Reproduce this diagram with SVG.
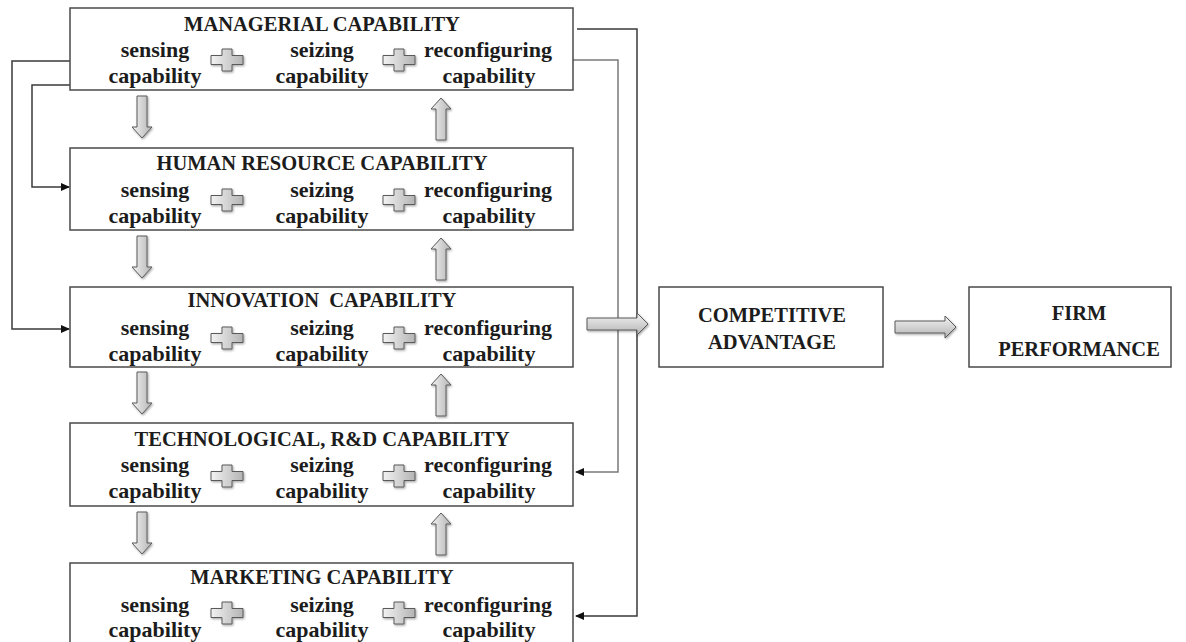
<svg xmlns="http://www.w3.org/2000/svg" width="1186" height="642" viewBox="0 0 1186 642">
<style>
.box{fill:#fff;stroke:#4a4a4a;stroke-width:1.5}
.t{font-family:"Liberation Serif","Times New Roman",serif;font-weight:bold;fill:#1c1c1c;text-anchor:middle}
.cap{font-size:20.5px}
.low{font-size:22px}
.ln{fill:none;stroke:#3a3a3a;stroke-width:1.5}
.ln2{fill:none;stroke:#7a7a7a;stroke-width:1.5}
.blk{stroke:#5a5a5a;stroke-width:1;filter:url(#sh)}
</style>
<defs>
<filter id="sh" x="-30%" y="-30%" width="160%" height="160%">
<feDropShadow dx="1" dy="1.2" stdDeviation="0.9" flood-color="#000" flood-opacity="0.35"/>
</filter>
<linearGradient id="gv" x1="0" y1="0" x2="1" y2="0">
<stop offset="0" stop-color="#f2f2f2"/><stop offset="1" stop-color="#b4b4b4"/>
</linearGradient>
<linearGradient id="gh" x1="0" y1="0" x2="0" y2="1">
<stop offset="0" stop-color="#f2f2f2"/><stop offset="1" stop-color="#b4b4b4"/>
</linearGradient>
<marker id="ah" markerWidth="10" markerHeight="10" refX="8" refY="4" orient="auto" markerUnits="userSpaceOnUse">
<path d="M0,0 L9,4 L0,8 Z" fill="#111"/>
</marker>
<path id="plus" d="M-5,-11 H5 V-4.5 H16 V4.5 H5 V11 H-5 V4.5 H-16 V-4.5 H-5 Z"/>
<path id="down" d="M-5,0 H5 V31 H10 L0,42 L-10,31 H-5 Z"/>
<path id="up" d="M-5,42 H5 V11 H10 L0,0 L-10,11 H-5 Z"/>
<path id="right" d="M0,-6 H50 V-11 L61,0 L50,11 V6 H0 Z"/>
</defs>
<rect width="1186" height="642" fill="#fff"/>

<g id="connectors">
<path class="ln" d="M70,61 H12 V329 H69" marker-end="url(#ah)"/>
<path class="ln" d="M70,85 H32 V187 H69" marker-end="url(#ah)"/>
<path class="ln" d="M577,29 H637 V616 H576" marker-end="url(#ah)"/>
<path class="ln2" d="M573,60 H618 V472 H576" marker-end="url(#ah)"/>
<g fill="url(#gv)" class="blk">
<use href="#down" x="142" y="96"/>
<use href="#down" x="142" y="236"/>
<use href="#down" x="142" y="372"/>
<use href="#down" x="142" y="512"/>
<use href="#up" x="441" y="98"/>
<use href="#up" x="441" y="238"/>
<use href="#up" x="441" y="374"/>
<use href="#up" x="441" y="513"/>
</g>
<g fill="url(#gh)" class="blk">
<use href="#right" x="587" y="324"/>
<use href="#right" x="895" y="327"/>
</g>
</g>

<g id="managerial">
<rect class="box" x="70" y="8" width="503" height="82"/>
<text class="t cap" x="322" y="31">MANAGERIAL CAPABILITY</text>
<text class="t low" x="155" y="57">sensing</text>
<text class="t low" x="155" y="83">capability</text>
<text class="t low" x="322" y="57">seizing</text>
<text class="t low" x="322" y="83">capability</text>
<text class="t low" x="488" y="57">reconfiguring</text>
<text class="t low" x="489" y="83">capability</text>
<use href="#plus" x="227" y="60" fill="url(#gv)" class="blk"/>
<use href="#plus" x="399" y="60" fill="url(#gv)" class="blk"/>
</g>

<g id="human-resource">
<rect class="box" x="70" y="148" width="503" height="82"/>
<text class="t cap" x="322" y="170">HUMAN RESOURCE CAPABILITY</text>
<text class="t low" x="155" y="197">sensing</text>
<text class="t low" x="155" y="223">capability</text>
<text class="t low" x="322" y="197">seizing</text>
<text class="t low" x="322" y="223">capability</text>
<text class="t low" x="488" y="197">reconfiguring</text>
<text class="t low" x="489" y="223">capability</text>
<use href="#plus" x="227" y="200" fill="url(#gv)" class="blk"/>
<use href="#plus" x="399" y="200" fill="url(#gv)" class="blk"/>
</g>

<g id="innovation">
<rect class="box" x="70" y="287" width="503" height="80"/>
<text class="t cap" x="322" y="307" xml:space="preserve">INNOVATION  CAPABILITY</text>
<text class="t low" x="155" y="335">sensing</text>
<text class="t low" x="155" y="361">capability</text>
<text class="t low" x="322" y="335">seizing</text>
<text class="t low" x="322" y="361">capability</text>
<text class="t low" x="488" y="335">reconfiguring</text>
<text class="t low" x="489" y="361">capability</text>
<use href="#plus" x="227" y="338" fill="url(#gv)" class="blk"/>
<use href="#plus" x="399" y="338" fill="url(#gv)" class="blk"/>
</g>

<g id="technological">
<rect class="box" x="70" y="423" width="503" height="83"/>
<text class="t cap" x="322" y="446">TECHNOLOGICAL, R&amp;D CAPABILITY</text>
<text class="t low" x="155" y="472">sensing</text>
<text class="t low" x="155" y="498">capability</text>
<text class="t low" x="322" y="472">seizing</text>
<text class="t low" x="322" y="498">capability</text>
<text class="t low" x="488" y="472">reconfiguring</text>
<text class="t low" x="489" y="498">capability</text>
<use href="#plus" x="227" y="476" fill="url(#gv)" class="blk"/>
<use href="#plus" x="399" y="476" fill="url(#gv)" class="blk"/>
</g>

<g id="marketing">
<rect class="box" x="70" y="563" width="503" height="90"/>
<text class="t cap" x="322" y="584">MARKETING CAPABILITY</text>
<text class="t low" x="155" y="612">sensing</text>
<text class="t low" x="155" y="637">capability</text>
<text class="t low" x="322" y="612">seizing</text>
<text class="t low" x="322" y="637">capability</text>
<text class="t low" x="488" y="612">reconfiguring</text>
<text class="t low" x="489" y="637">capability</text>
<use href="#plus" x="227" y="613" fill="url(#gv)" class="blk"/>
<use href="#plus" x="399" y="613" fill="url(#gv)" class="blk"/>
</g>

<g id="competitive-advantage">
<rect class="box" x="659" y="287" width="224" height="80"/>
<text class="t cap" x="772" y="322">COMPETITIVE</text>
<text class="t cap" x="772" y="349">ADVANTAGE</text>
</g>

<g id="firm-performance">
<rect class="box" x="969" y="287" width="202" height="80"/>
<text class="t cap" x="1079" y="320">FIRM</text>
<text class="t cap" x="1079" y="356">PERFORMANCE</text>
</g>
</svg>
